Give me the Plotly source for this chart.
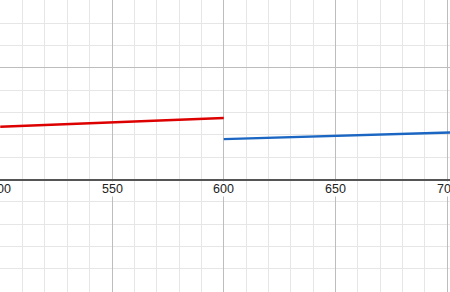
import plotly.graph_objects as go

# Data
red_x = [500, 600]
red_y = [23.6, 27.5]
blue_x = [600, 702]
blue_y = [18.1, 21.05]
tick_vals = [500, 550, 600, 650, 700]
tick_labels = ["500", "550", "600", "650", "700"]

fig = go.Figure()
fig.add_trace(go.Scatter(x=red_x, y=red_y, mode="lines",
                         line=dict(color="#dd0000", width=2.6), hoverinfo="skip"))
fig.add_trace(go.Scatter(x=blue_x, y=blue_y, mode="lines",
                         line=dict(color="#1a66c2", width=2.3), hoverinfo="skip"))

for v, t in zip(tick_vals, tick_labels):
    fig.add_annotation(x=v, y=0, text=t, showarrow=False, xanchor="center", yanchor="top",
                       yshift=-1, font=dict(family="Liberation Sans, Arial", size=12.5, color="#222"),
                       bgcolor="white", borderpad=0)

grid_major = "#bdbdbd"
grid_minor = "#e6e6e6"
fig.update_xaxes(range=[499.9, 701.2], tick0=500, dtick=50, showgrid=True, gridcolor=grid_major,
                 gridwidth=1.2, showticklabels=False, zeroline=False, ticks="",
                 minor=dict(dtick=10, tick0=500, showgrid=True, gridcolor=grid_minor, gridwidth=1),
                 fixedrange=True)
fig.update_yaxes(range=[-50.3, 80.3], tick0=0, dtick=50, showgrid=True, gridcolor=grid_major,
                 gridwidth=1.2, showticklabels=False, zeroline=True, zerolinecolor="#555555",
                 zerolinewidth=1.6, ticks="",
                 minor=dict(dtick=10, tick0=0, showgrid=True, gridcolor=grid_minor, gridwidth=1),
                 fixedrange=True)
fig.update_layout(width=450, height=292, margin=dict(l=0, r=0, t=0, b=0),
                  paper_bgcolor="white", plot_bgcolor="white", showlegend=False)
fig.write_html("out.html", config={"displayModeBar": False})
